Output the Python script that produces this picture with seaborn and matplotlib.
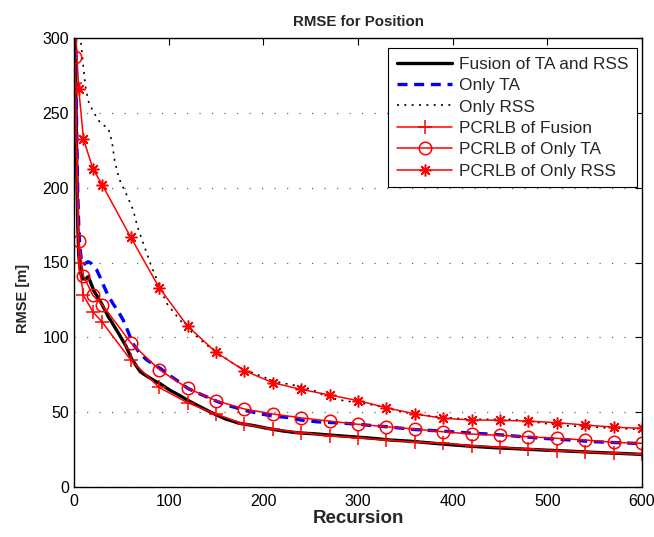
import matplotlib
matplotlib.use('Agg')
import matplotlib.pyplot as plt
import seaborn as sns
import pandas as pd

# recursion steps where the PCRLB markers sit
marker_x = [1, 5, 10, 20, 30, 60, 90, 120, 150, 180, 210, 240, 270, 300,
	330, 360, 390, 420, 450, 480, 510, 540, 570, 600]
pcrlb_fusion = [270, 150, 128, 117, 110, 84.8, 66.5, 56.3, 48.7, 41.9, 38.7, 36.3, 34.3, 32.9,
	31.4, 30.0, 29.2, 27.6, 26.5, 25.4, 24.3, 23.6, 22.5, 21.8]
pcrlb_ta = [287, 164.5, 141, 128, 121.6, 96.4, 78.5, 66, 57.7, 52.1, 48.8, 46.2, 44, 41.9,
	40.3, 38.7, 36.9, 35.4, 34.5, 33.6, 32.5, 31.4, 29.8, 29.2]
pcrlb_rss = [312, 266, 232.5, 212.5, 201.7, 166.8, 133.2, 107.5, 90, 77.7, 69.7, 65.2, 61.5, 57.7,
	53, 48.8, 45.9, 44.8, 44.6, 44, 43, 41.4, 40, 39.2]

# simulated RMSE curves
fusion_x = [1, 2, 3, 4, 5, 7, 9, 12, 15, 18, 21, 24, 29, 32, 36, 40, 47, 55, 61, 70, 78, 85, 91,
	101, 112, 120, 135, 147, 160, 175, 190, 204, 220, 235, 255, 270, 285, 302, 318, 334, 355,
	375, 397, 420, 443, 470, 496, 522, 548, 575, 600]
fusion_y = [330, 260, 210, 175, 155, 143, 139, 139, 140.5, 136, 131, 128, 122.7, 119, 114, 110,
	102.7, 94, 85.5, 77, 73.7, 71, 69, 64.8, 61, 58, 53, 49.2, 45.5, 42.5, 41, 39.2, 37.5, 36.3,
	35.5, 34.7, 34, 33.2, 32.4, 31.4, 30.6, 29.5, 28.3, 27.2, 26.3, 25.5, 24.7, 24, 23.2, 22.5, 21.8]

ta_x = [1, 2, 3, 4, 5, 6, 8, 10, 12, 15, 18, 21, 24, 27, 31, 36, 41, 47, 52, 57, 62, 70, 77, 84,
	91, 100, 108, 120, 130, 140, 150, 161, 172, 182, 196, 210, 225, 242, 258, 274, 298, 315, 330,
	358, 385, 408, 425, 443, 470, 496, 522, 548, 575, 600]
ta_y = [340, 280, 230, 195, 175, 162, 150, 148.5, 149.5, 150.5, 149.5, 147, 145, 141, 135, 128,
	122.7, 117, 111.5, 104, 96, 89, 84.8, 82, 79.3, 75, 71.5, 66, 63, 60.3, 57.5, 54.8, 52.8, 51,
	49, 47.4, 46.5, 44.5, 43.5, 43, 42.1, 41, 40.3, 38.5, 37.5, 36.5, 35.8, 35.2, 33.8, 32.5, 31.5,
	30.3, 29.6, 29]

rss_x = [1, 3, 6, 8, 10, 12, 15, 18, 20, 24, 28, 33, 36, 40, 43, 46, 49, 55, 60, 63, 67, 72, 77,
	82, 88, 93, 98, 105, 112, 120, 130, 138, 147, 158, 168, 178, 190, 200, 214, 228, 242, 255,
	268, 281, 298, 316, 335, 355, 372, 390, 408, 425, 445, 461, 480, 503, 520, 538, 556, 573, 600]
rss_y = [360, 330, 305, 293, 280, 268, 258, 254, 251, 247, 243, 241, 240, 231, 218, 210, 204, 196,
	189, 184, 174, 165, 156, 147, 138, 130, 122.7, 117, 111.5, 106, 100.4, 96, 91.5, 87, 82.6, 79,
	76, 73.5, 70.3, 68.5, 67, 64, 60, 58.1, 56.5, 54.8, 52, 49.2, 47.8, 46.5, 45.7, 45.2, 45.2,
	45.2, 44, 42, 41, 40.3, 39.8, 39.2, 38.5]

x_ticks = [0, 100, 200, 300, 400, 500, 600]
y_ticks = [0, 50, 100, 150, 200, 250, 300]


def main():
	sns.set_theme(style='white')
	plt.rcParams['font.family'] = ['Liberation Sans', 'DejaVu Sans']

	fig = plt.figure(figsize=(6.54, 5.37), dpi=100)
	ax = fig.add_axes([74 / 654, 50 / 537, 568 / 654, 449 / 537])

	df_fus = pd.DataFrame({'x': fusion_x, 'y': fusion_y})
	df_ta = pd.DataFrame({'x': ta_x, 'y': ta_y})
	df_rss = pd.DataFrame({'x': rss_x, 'y': rss_y})
	df_crlb = pd.DataFrame({'x': marker_x, 'fus': pcrlb_fusion, 'ta': pcrlb_ta, 'rss': pcrlb_rss})

	sns.lineplot(data=df_fus, x='x', y='y', ax=ax, color='black', lw=2.4,
		label='Fusion of TA and RSS', sort=False, estimator=None)
	sns.lineplot(data=df_ta, x='x', y='y', ax=ax, color='blue', lw=2.4, linestyle=(0, (3, 2)),
		label='Only TA', sort=False, estimator=None)
	sns.lineplot(data=df_rss, x='x', y='y', ax=ax, color='black', lw=1.2, linestyle=(0, (1.2, 3.2)),
		label='Only RSS', sort=False, estimator=None)

	red = '#ff0000'
	sns.lineplot(data=df_crlb, x='x', y='fus', ax=ax, color=red, lw=1.1, marker='+',
		markersize=10, markeredgecolor=red, markeredgewidth=1.1,
		label='PCRLB of Fusion', sort=False, estimator=None)
	sns.lineplot(data=df_crlb, x='x', y='ta', ax=ax, color=red, lw=1.1, marker='o',
		markersize=9, markerfacecolor='none', markeredgecolor=red, markeredgewidth=1.1,
		label='PCRLB of Only TA', sort=False, estimator=None)
	sns.lineplot(data=df_crlb, x='x', y='rss', ax=ax, color=red, lw=1.1, marker=(8, 2, 0),
		markersize=8.5, markeredgecolor=red, markeredgewidth=1.1,
		label='PCRLB of Only RSS', sort=False, estimator=None)

	ax.set_xlim(0, 600)
	ax.set_ylim(0, 300)
	ax.set_xticks(x_ticks)
	ax.set_yticks(y_ticks)
	ax.tick_params(direction='in', length=5, width=0.8, top=True, right=True,
		labelsize=11.5, colors='black')
	ax.tick_params(axis='x', pad=5)
	ax.tick_params(axis='y', pad=3.5)
	for s in ax.spines.values():
		s.set_color('black')
		s.set_linewidth(1.0)
	ax.yaxis.grid(True, linestyle=(0, (1, 9)), color='0.4', lw=0.9)
	ax.xaxis.grid(False)

	ax.set_title('RMSE for Position', fontsize=10.8, fontweight='bold', pad=9)
	ax.set_xlabel('Recursion', fontsize=13.5, fontweight='bold', labelpad=1)
	ax.set_ylabel('RMSE [m]', fontsize=10.5, fontweight='bold')
	ax.yaxis.set_label_coords(-0.077, 0.42)

	leg = ax.legend(loc='upper right', bbox_to_anchor=((637 - 74) / 568, (487 - 48) / 449),
		borderaxespad=0, fontsize=12.4, frameon=True, fancybox=False,
		edgecolor='black', framealpha=1, handlelength=3.2, borderpad=0.5,
		labelspacing=0.37, handletextpad=0.4)
	leg.get_frame().set_linewidth(0.8)

	fig.savefig('out.png', dpi=100)


if __name__ == '__main__':
	main()
